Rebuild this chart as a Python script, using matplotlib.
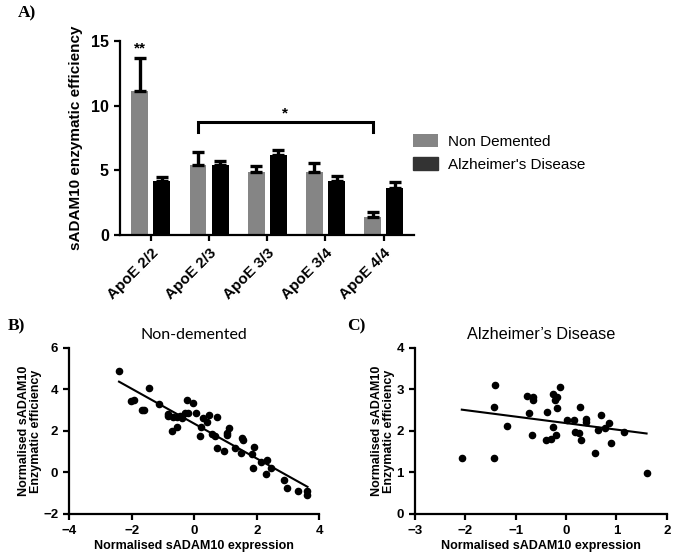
#!/usr/bin/env python3
"""sADAM10 enzymatic efficiency by ApoE genotype, plus correlation panels."""

import numpy as np
import matplotlib
matplotlib.use("Agg")
import matplotlib.pyplot as plt

plt.rcParams["font.family"] = ["Liberation Sans", "DejaVu Sans"]

# Panel A data
GENOTYPES = ["ApoE 2/2", "ApoE 2/3", "ApoE 3/3", "ApoE 3/4", "ApoE 4/4"]
ND_MEAN = [11.1, 5.45, 4.85, 4.85, 1.4]
ND_SEM = [2.6, 0.95, 0.5, 0.7, 0.35]
AD_MEAN = [4.2, 5.4, 6.15, 4.2, 3.65]
AD_SEM = [0.3, 0.35, 0.45, 0.35, 0.45]

# Panel B: non-demented
ND_X = [-2.41, -1.45, -2.04, -1.92, -1.69, -1.61, -1.12, -0.83, -0.83, -0.73,
        -0.67, -0.55, -0.54, -0.46, -0.41, -0.30, -0.21, -0.25, -0.03, 0.05,
        0.18, 0.22, 0.29, 0.42, 0.46, 0.57, 0.65, 0.71, 0.74, 0.95,
        1.03, 1.03, 1.12, 1.30, 1.48, 1.53, 1.55, 1.83, 1.87, 1.91,
        2.14, 2.28, 2.31, 2.44, 2.88, 2.98, 3.31, 3.61, 3.62]
ND_Y = [4.86, 4.04, 3.45, 3.50, 2.99, 2.99, 3.28, 2.81, 2.73, 1.99,
        2.65, 2.65, 2.20, 2.73, 2.63, 2.84, 2.84, 3.50, 3.32, 2.87,
        1.75, 2.20, 2.63, 2.41, 2.78, 1.84, 1.75, 2.68, 1.19, 1.05,
        1.79, 1.91, 2.12, 1.19, 0.94, 1.66, 1.54, 0.89, 0.20, 1.24,
        0.49, -0.07, 0.60, 0.20, -0.38, -0.76, -0.89, -0.89, -1.08]

# Panel C: Alzheimer's disease
AD_X = [-2.07, -1.41, -1.43, -1.43, -1.17, -0.78, -0.74, -0.66, -0.66, -0.68,
        -0.40, -0.37, -0.29, -0.25, -0.25, -0.22, -0.20, -0.17, -0.17, -0.11,
        0.02, 0.15, 0.17, 0.26, 0.28, 0.29, 0.39, 0.39, 0.58, 0.63,
        0.70, 0.77, 0.85, 0.90, 1.15, 1.60]
AD_Y = [1.35, 3.11, 2.57, 1.35, 2.11, 2.84, 2.42, 2.81, 2.75, 1.91,
        1.79, 2.45, 1.81, 2.88, 2.10, 2.73, 1.90, 2.81, 2.54, 3.05,
        2.25, 2.27, 1.98, 1.95, 2.57, 1.78, 2.29, 2.22, 1.46, 2.03,
        2.38, 2.07, 2.19, 1.70, 1.97, 0.98]

GREY = "#858585"
SPINE_W = 1.6


def style_axes(ax, size):
    for side in ("top", "right"):
        ax.spines[side].set_visible(False)
    for side in ("left", "bottom"):
        ax.spines[side].set_linewidth(SPINE_W)
    ax.tick_params(width=SPINE_W, length=4.5, labelsize=size, direction="out")
    for lab in ax.get_xticklabels() + ax.get_yticklabels():
        lab.set_fontweight("bold")


fig = plt.figure(figsize=(6.75, 5.58), dpi=100)

# ---- Panel A ----
ax = fig.add_axes([0.1778, 0.5789, 0.4355, 0.3476])
x = np.arange(len(GENOTYPES))
off, w = 0.19, 0.29
ekw = dict(ecolor="black", elinewidth=2.4, capsize=4.5, capthick=2.4)
ax.bar(x - off, ND_MEAN, width=w, color=GREY, label="Non Demented",
       yerr=[np.zeros(len(x)), ND_SEM], error_kw=ekw)
ax.bar(x + off, AD_MEAN, width=w, color="black", label="Alzheimer's Disease",
       yerr=[np.zeros(len(x)), AD_SEM], error_kw=ekw)
ax.set_xlim(-0.53, 4.52)
ax.set_ylim(0, 15)
ax.set_yticks([0, 5, 10, 15])
ax.set_xticks(x)
ax.set_xticklabels(GENOTYPES, rotation=45, ha="right", rotation_mode="anchor")
ax.set_ylabel("sADAM10 enzymatic efficiency", fontsize=11, fontweight="bold", labelpad=6)
style_axes(ax, 11)
ax.tick_params(axis="y", labelsize=11.5)
# significance marks
ax.text(0 - off, ND_MEAN[0] + ND_SEM[0] + 0.2, "**", ha="center", va="bottom", fontsize=11, fontweight="bold")
ax.plot([1 - off, 1 - off, 4 - off, 4 - off], [8.0, 8.75, 8.75, 8.0], color="black", lw=2.2,
        solid_joinstyle="miter", clip_on=False)
ax.text((1 + 4) / 2 - off, 8.85, "*", ha="center", va="bottom", fontsize=11, fontweight="bold")
leg = ax.legend(loc="upper left", bbox_to_anchor=(0.998, 0.52), frameon=False, fontsize=11,
                handlelength=1.6, handleheight=0.9, borderaxespad=0.0, borderpad=0.0,
                labelspacing=0.55, handletextpad=0.65)
leg.legend_handles[1].set_color("#333333")

# ---- Panel B ----
axb = fig.add_axes([0.1027, 0.0789, 0.3704, 0.298])
axb.scatter(ND_X, ND_Y, s=20, color="black", zorder=3)
k, b = np.polyfit(ND_X, ND_Y, 1)
xs = np.array([min(ND_X), max(ND_X)])
axb.plot(xs, k * xs + b, color="black", lw=1.5)
axb.set_xlim(-4, 4)
axb.set_ylim(-2, 6)
axb.set_xticks([-4, -2, 0, 2, 4])
axb.set_yticks([-2, 0, 2, 4, 6])
axb.set_xlabel("Normalised sADAM10 expression", fontsize=9, fontweight="bold", labelpad=2)
axb.set_ylabel("Normalised sADAM10\nEnzymatic efficiency", fontsize=9, fontweight="bold",
               linespacing=1.0, labelpad=1)
axb.set_title("Non-demented", fontsize=11.5, family=["Lato", "DejaVu Sans"], pad=6)
style_axes(axb, 9.5)

# ---- Panel C ----
axc = fig.add_axes([0.6148, 0.0789, 0.3729, 0.298])
axc.scatter(AD_X, AD_Y, s=20, color="black", zorder=3)
k, b = np.polyfit(AD_X, AD_Y, 1)
xs = np.array([min(AD_X), max(AD_X)])
axc.plot(xs, k * xs + b, color="black", lw=1.5)
axc.set_xlim(-3, 2)
axc.set_ylim(0, 4)
axc.set_xticks([-3, -2, -1, 0, 1, 2])
axc.set_yticks([0, 1, 2, 3, 4])
axc.set_xlabel("Normalised sADAM10 expression", fontsize=9, fontweight="bold", labelpad=2)
axc.set_ylabel("Normalised sADAM10\nEnzymatic efficiency", fontsize=9, fontweight="bold",
               linespacing=1.0, labelpad=1)
axc.set_title("Alzheimer\u2019s Disease", fontsize=11.7, pad=6)
style_axes(axc, 9.5)

# panel letters
for lab, px, py in [("A)", 18, 13), ("B)", 8, 326), ("C)", 347, 326)]:
    fig.text(px / 675, 1 - py / 558, lab, fontsize=12.5, fontweight="bold",
             family=["Liberation Serif", "DejaVu Serif"], va="center", ha="left")

fig.savefig("out.png", dpi=100)
